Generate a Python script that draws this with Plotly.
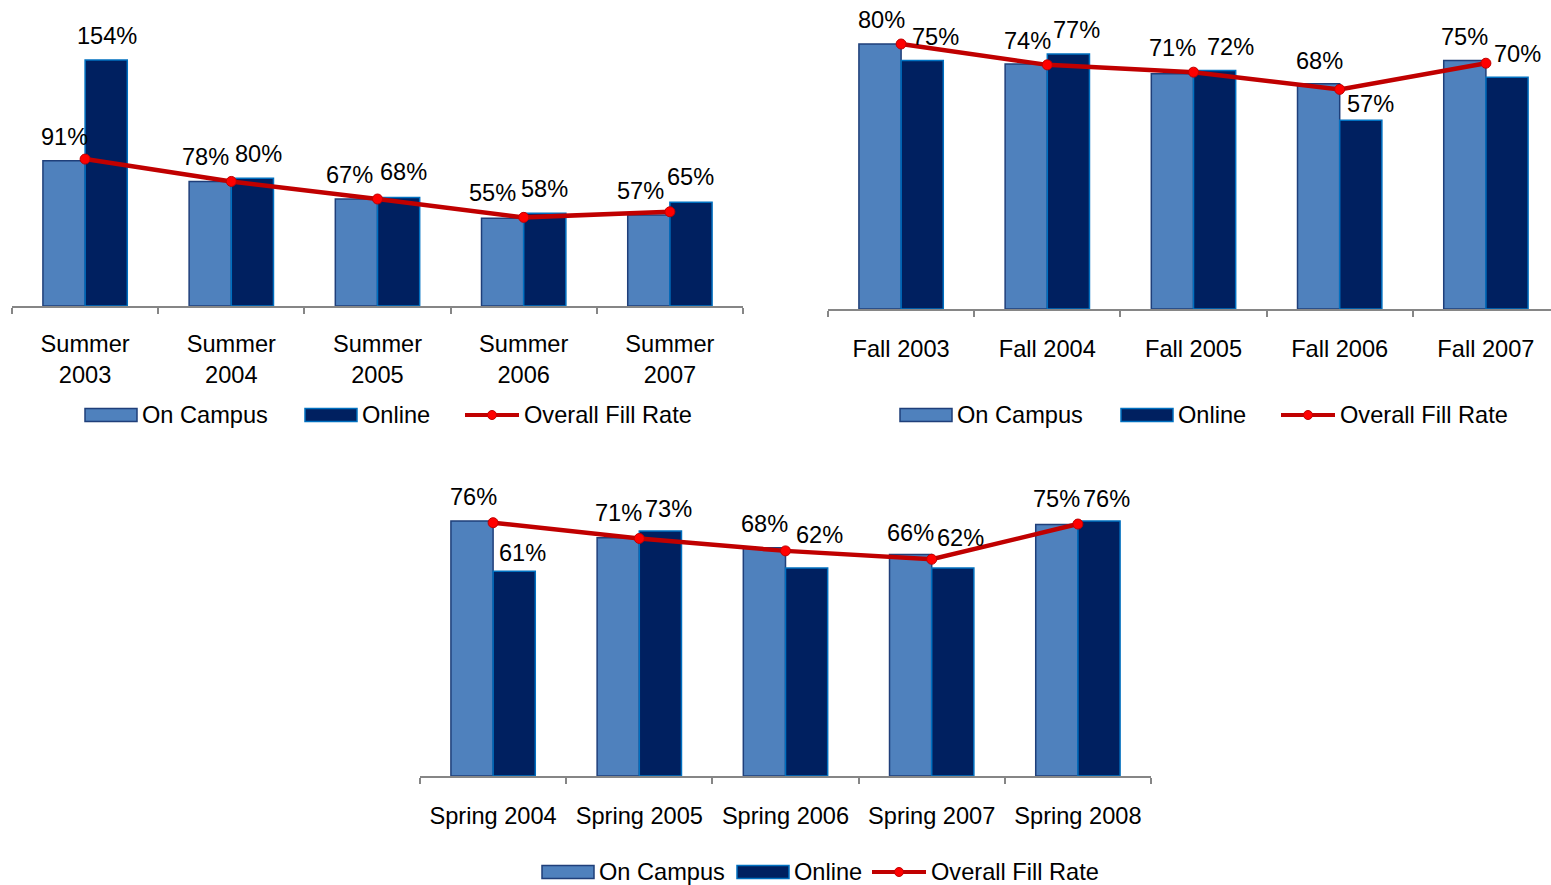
import plotly.graph_objects as go

# ---- data -------------------------------------------------------------
summer_terms = ["Summer<br>2003", "Summer<br>2004", "Summer<br>2005", "Summer<br>2006", "Summer<br>2007"]
summer_on_campus = [91, 78, 67, 55, 57]
summer_online = [154, 80, 68, 58, 65]
summer_overall = [92, 78, 67, 55.5, 59]

fall_terms = ["Fall 2003", "Fall 2004", "Fall 2005", "Fall 2006", "Fall 2007"]
fall_on_campus = [80, 74, 71, 68, 75]
fall_online = [75, 77, 72, 57, 70]
fall_overall = [80, 73.7, 71.5, 66.3, 74.2]

spring_terms = ["Spring 2004", "Spring 2005", "Spring 2006", "Spring 2007", "Spring 2008"]
spring_on_campus = [76, 71, 68, 66, 75]
spring_online = [61, 73, 62, 62, 76]
spring_overall = [75.5, 70.8, 67.1, 64.6, 75.1]

series_names = ["On Campus", "Online", "Overall Fill Rate"]

# ---- styling ----------------------------------------------------------
W, H = 1551, 885
FONT = "Liberation Sans, Arial, sans-serif"
FS = 23.6
C_CAMPUS, C_CAMPUS_EDGE = "#4F81BD", "#1F3F7A"
C_ONLINE, C_ONLINE_EDGE = "#002060", "#0070C0"
C_LINE, C_MARK = "#C00000", "#FF0000"
AXIS_GREY = "#868686"


def xdom(left, right):
    return [left / W, right / W]


def ydom(top, bottom):
    return [1 - bottom / H, 1 - top / H]


fig = go.Figure()

# panel geometry: (axis suffix, x-domain px, y-top px, baseline px, px per %, x-range,
#                  tick-label standoff, label nudges in px for campus/online: dx, dx, dy, dy)
panels = [
    ("", summer_terms, summer_on_campus, summer_online, summer_overall,
     (12, 743), 10, 306, 1.597, [-0.5, 4.5], 16,
     [0, -5, -7, -10, -8], [1, 6, 5, 0, 0], [24, 24, 24, 25, 24], [24, 24, 25, 24, 25]),
    ("2", fall_terms, fall_on_campus, fall_online, fall_overall,
     (828, 1551), 10, 309, 3.3125, [-0.5, -0.5 + 723 / 146.2], 18,
     [1, 1, 0, 1, 0], [13, 8, 16, 10, 11], [24, 23, 26, 23, 24], [24, 24, 24, 16, 23]),
    ("3", spring_terms, spring_on_campus, spring_online, spring_overall,
     (420, 1151), 480, 776, 3.355, [-0.5, 4.5], 18,
     [1, 0, 0, 0, 0], [8, 8, 13, 8, 8], [24, 25, 24, 22, 25], [18, 22, 33, 30, 22]),
]

annotations = []
for (sfx, terms, campus, online, overall, (xl, xr), ytop, ybase, ppu, xr_range, standoff,
     dx_c, dx_o, dy_c, dy_o) in panels:
    xa, ya = "x" + sfx, "y" + sfx
    fig.add_trace(go.Bar(
        x=terms, y=campus, name=series_names[0], xaxis=xa, yaxis=ya,
        marker=dict(color=C_CAMPUS, line=dict(color=C_CAMPUS_EDGE, width=1.5)),
        showlegend=False, hoverinfo="skip"))
    fig.add_trace(go.Bar(
        x=terms, y=online, name=series_names[1], xaxis=xa, yaxis=ya,
        marker=dict(color=C_ONLINE, line=dict(color=C_ONLINE_EDGE, width=1.5)),
        showlegend=False, hoverinfo="skip"))
    fig.add_trace(go.Scatter(
        x=terms, y=overall, name=series_names[2], xaxis=xa, yaxis=ya,
        mode="lines+markers", line=dict(color=C_LINE, width=4.5),
        marker=dict(color=C_MARK, size=10, line=dict(color=C_LINE, width=1)),
        showlegend=False, hoverinfo="skip"))

    ymax = (ybase - ytop) / ppu
    xkey = "xaxis" + sfx
    ykey = "yaxis" + sfx
    fig.update_layout(**{
        xkey: dict(domain=xdom(xl, xr), range=xr_range, type="category",
                   anchor=ya, showline=True, linecolor=AXIS_GREY, linewidth=1.5,
                   ticks="outside", tickson="boundaries", ticklen=6,
                   tickcolor=AXIS_GREY, tickwidth=1.5, showgrid=False,
                   ticklabelstandoff=standoff,
                   tickfont=dict(family=FONT, size=FS, color="#000000"),
                   fixedrange=True),
        ykey: dict(domain=ydom(ytop, ybase), range=[0, ymax], visible=False,
                   anchor=xa, fixedrange=True),
    })

    # value labels above each bar
    for vals, side, dxs, dys in ((campus, -21, dx_c, dy_c), (online, 21, dx_o, dy_o)):
        for t, v, dx, dy in zip(terms, vals, dxs, dys):
            annotations.append(dict(
                x=t, y=v, xref=xa, yref=ya, text=f"{v}%", showarrow=False,
                xanchor="center", yanchor="middle", xshift=side + dx, yshift=dy,
                font=dict(family=FONT, size=FS, color="#000000")))

# ---- hand-drawn legends -------------------------------------------------
shapes = []
legend_rows = [
    (415, (85, 305, 465)),
    (415, (900, 1121, 1281)),
    (872, (542, 737, 872)),
]
for yc, (x1, x2, x3) in legend_rows:
    y0p, y1p = 1 - (yc + 6.5) / H, 1 - (yc - 6.5) / H
    shapes.append(dict(type="rect", xref="paper", yref="paper",
                       x0=x1 / W, x1=(x1 + 52) / W, y0=y0p, y1=y1p,
                       fillcolor=C_CAMPUS, line=dict(color=C_CAMPUS_EDGE, width=1.5)))
    shapes.append(dict(type="rect", xref="paper", yref="paper",
                       x0=x2 / W, x1=(x2 + 52) / W, y0=y0p, y1=y1p,
                       fillcolor=C_ONLINE, line=dict(color=C_ONLINE_EDGE, width=1.5)))
    shapes.append(dict(type="line", xref="paper", yref="paper",
                       x0=x3 / W, x1=(x3 + 54) / W, y0=1 - yc / H, y1=1 - yc / H,
                       line=dict(color=C_LINE, width=4)))
    shapes.append(dict(type="circle", xref="paper", yref="paper",
                       x0=(x3 + 27 - 4.5) / W, x1=(x3 + 27 + 4.5) / W,
                       y0=1 - (yc + 4.5) / H, y1=1 - (yc - 4.5) / H,
                       fillcolor=C_MARK, line=dict(color=C_LINE, width=1)))
    for name, xs in zip(series_names, (x1 + 52, x2 + 52, x3 + 54)):
        annotations.append(dict(
            x=(xs + 3) / W, y=1 - yc / H, xref="paper", yref="paper",
            text=name, showarrow=False, xanchor="left", yanchor="middle",
            font=dict(family=FONT, size=FS, color="#000000")))

fig.update_layout(
    width=W, height=H, autosize=False,
    margin=dict(l=0, r=0, t=0, b=0),
    paper_bgcolor="#FFFFFF", plot_bgcolor="#FFFFFF",
    barmode="group", bargap=0.423, bargroupgap=0,
    showlegend=False,
    annotations=annotations, shapes=shapes,
    font=dict(family=FONT, size=FS, color="#000000"),
)

fig.write_html("out.html")
